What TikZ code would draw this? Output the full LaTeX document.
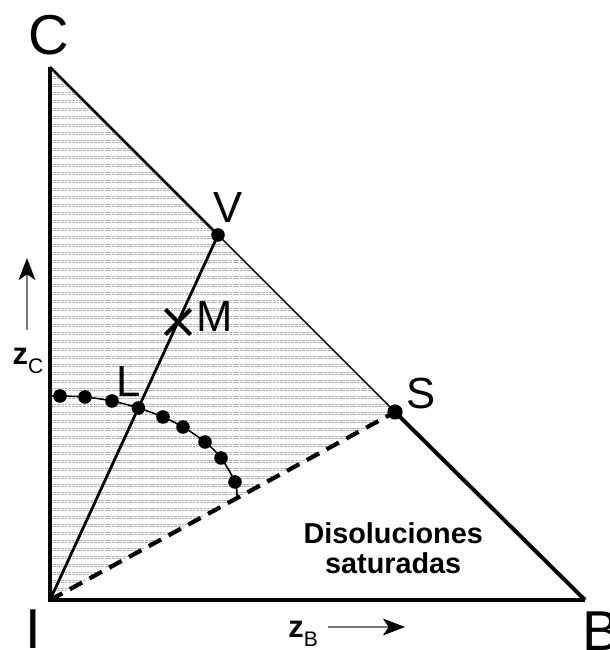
\documentclass[tikz,border=0pt]{standalone}
\usepackage{fontspec}
\setmainfont{Liberation Sans}
\usetikzlibrary{arrows.meta,shapes.misc}
\definecolor{hatchgray}{RGB}{180,180,180}
\definecolor{axisgray}{RGB}{120,120,120}
\tikzset{
  sideline/.style={line width=2.4pt,line join=miter},
  bottomline/.style={line width=2.8pt},
  slope/.style={line width=1.8pt},
  slopethin/.style={line width=1pt},
  tieline/.style={line width=2pt},
  satline/.style={line width=3pt,dash pattern=on 10pt off 6pt},
  curveline/.style={line width=1.1pt},
  pt/.style={circle,fill=black,inner sep=0pt,minimum size=0.34cm},
  hatch/.style={line width=0.3pt,draw=hatchgray,dash pattern=on 2pt off 0.6pt},
  axisarr/.style={draw=axisgray,line width=0.8pt,-{Stealth[length=5.5mm,width=4.2mm,inset=1.4mm,color=black]}}
}

\begin{document}
\begin{tikzpicture}[
  bigletter/.style={font=\fontsize{40}{44}\selectfont,anchor=base},
  letter/.style={font=\fontsize{31}{34}\selectfont,anchor=base},
  cross/.style={cross out,draw,line width=3pt,minimum size=0.52cm,inner sep=0pt}
]
  \useasboundingbox (-1.25,-1.25) rectangle (14,15);

  \coordinate (I) at (0,0);
  \coordinate (C) at (0,13.325);
  \coordinate (B) at (13.375,0);
  \coordinate (V) at (4.2,9.125);
  \coordinate (S) at (8.625,4.7);
  \coordinate (M) at (3.2,6.95);
  \coordinate (L) at (2.21,4.8);

  \coordinate (p0) at (0,5.1);
  \coordinate (p1) at (0.25,5.1);
  \coordinate (p2) at (0.875,5.075);
  \coordinate (p3) at (1.55,4.975);
  \coordinate (p5) at (2.825,4.575);
  \coordinate (p6) at (3.325,4.325);
  \coordinate (p7) at (3.875,3.95);
  \coordinate (p8) at (4.275,3.55);
  \coordinate (p9) at (4.625,2.95);
  \coordinate (pend) at (4.675,2.55);

  \begin{scope}
    \clip (I) -- (C) -- (S) -- cycle;
    \foreach \y in {0.05,0.25,...,13.4}{
      \draw[hatch] (0,\y) -- (9,\y);
      \draw[hatch] (0,\y+0.045) -- (9,\y+0.045);
    }
  \end{scope}

  \draw[satline] (I) -- (S);
  \draw[tieline] (I) -- (V);
  \draw[curveline] plot[smooth,tension=0.55] coordinates {(p0) (p1) (p2) (p3) (L) (p5) (p6) (p7) (p8) (p9) (pend)};

  \draw[sideline] (C) -- (I) -- (B);
  \draw[slope] (C) -- (V);
  \draw[slopethin] (V) -- (S);
  \draw[bottomline] (S) -- (B);

  \foreach \p in {p1,p2,p3,L,p5,p6,p7,p8,p9,V}{
    \node[pt] at (\p) {};
  }
  \node[pt,minimum size=0.38cm] (Sd) at (S) {};
  \node[cross] (Mx) at (M) {};

  \node[bigletter] (lblC) at (-0.025,13.64) {C};
  \node[bigletter] (lblI) at (-0.41,-1.2) {I};
  \node[bigletter] (lblB) at (13.79,-1.27) {B};
  \node[letter] (lblV) at (4.45,9.425) {V};
  \node[letter] (lblM) at (4.11,6.7) {M};
  \node[letter] (lblL) at (1.975,5.075) {L};
  \node[letter] (lblS) at (9.275,4.775) {S};

  \node (zC) at (-0.55,5.975) {{\fontsize{22}{24}\selectfont\bfseries z}\raisebox{-6pt}{\fontsize{15}{17}\selectfont C}};
  \node (zB) at (6.33,-0.85) {{\fontsize{22}{24}\selectfont\bfseries z}\raisebox{-6pt}{\fontsize{15}{17}\selectfont B}};
  \coordinate (zCtail) at (-0.575,6.75);
  \coordinate (zChead) at (-0.575,8.55);
  \coordinate (zBtail) at (6.95,-0.675);
  \coordinate (zBhead) at (8.875,-0.675);
  \draw[axisarr] (zCtail) -- (zChead);
  \draw[axisarr] (zBtail) -- (zBhead);

  \node[font=\fontsize{20.5}{21.5}\selectfont\bfseries,align=center] (sat) at (8.58,1.3) {Disoluciones\\saturadas};

\end{tikzpicture}
\end{document}
